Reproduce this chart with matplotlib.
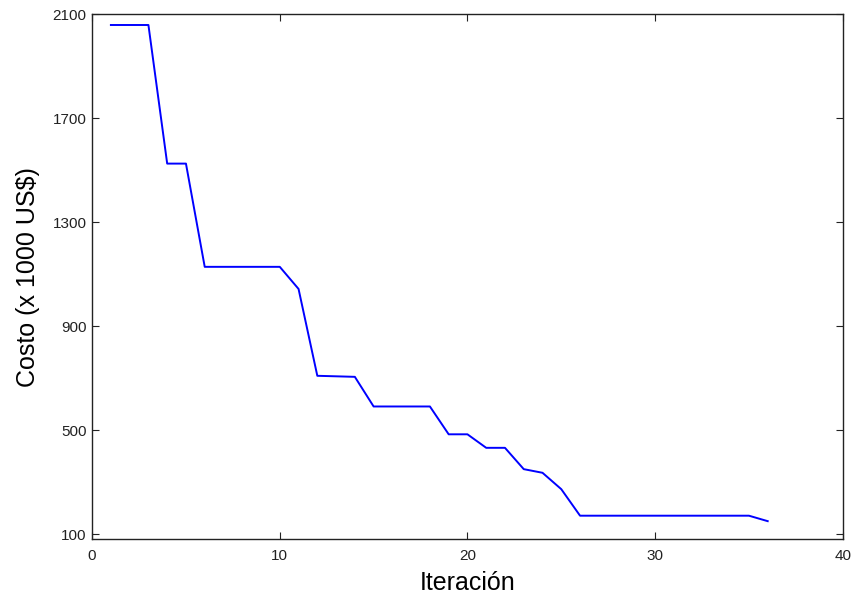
import matplotlib
matplotlib.use('Agg')
import matplotlib.pyplot as plt

plt.rcParams['font.family'] = ['Liberation Sans', 'DejaVu Sans']

# Datos
iteracion = list(range(1, 37))
costo = [2058, 2058, 2058, 1525, 1525, 1128, 1128, 1128, 1128, 1128,
         1043, 709, 707, 705, 591, 591, 591, 591, 484, 484,
         432, 432, 350, 336, 273, 171, 171, 171, 171, 171,
         171, 171, 171, 171, 171, 150]
xticks = [0, 10, 20, 30, 40]
yticks = [100, 500, 900, 1300, 1700, 2100]

fig = plt.figure(figsize=(8.53, 5.99), dpi=100)
ax = fig.add_axes([0.108, 0.100, 0.880, 0.8765])

ax.plot(iteracion, costo, color='#0000ff', linewidth=1.4)

ax.set_xlim(0, 40)
ax.set_ylim(81, 2100)
ax.set_xticks(xticks)
ax.set_yticks(yticks)
ax.tick_params(direction='in', top=True, right=True, labelsize=11,
               length=5, width=0.8, colors='#222222')
ax.tick_params(axis='x', pad=7)
ax.tick_params(axis='y', pad=4)
for s in ax.spines.values():
    s.set_linewidth(1.0)
    s.set_color('#222222')

ax.set_xlabel('Iteración', fontsize=18, labelpad=6)
ax.set_ylabel('Costo (x 1000 US$)', fontsize=18, labelpad=9)

fig.savefig('out.png', dpi=100)
